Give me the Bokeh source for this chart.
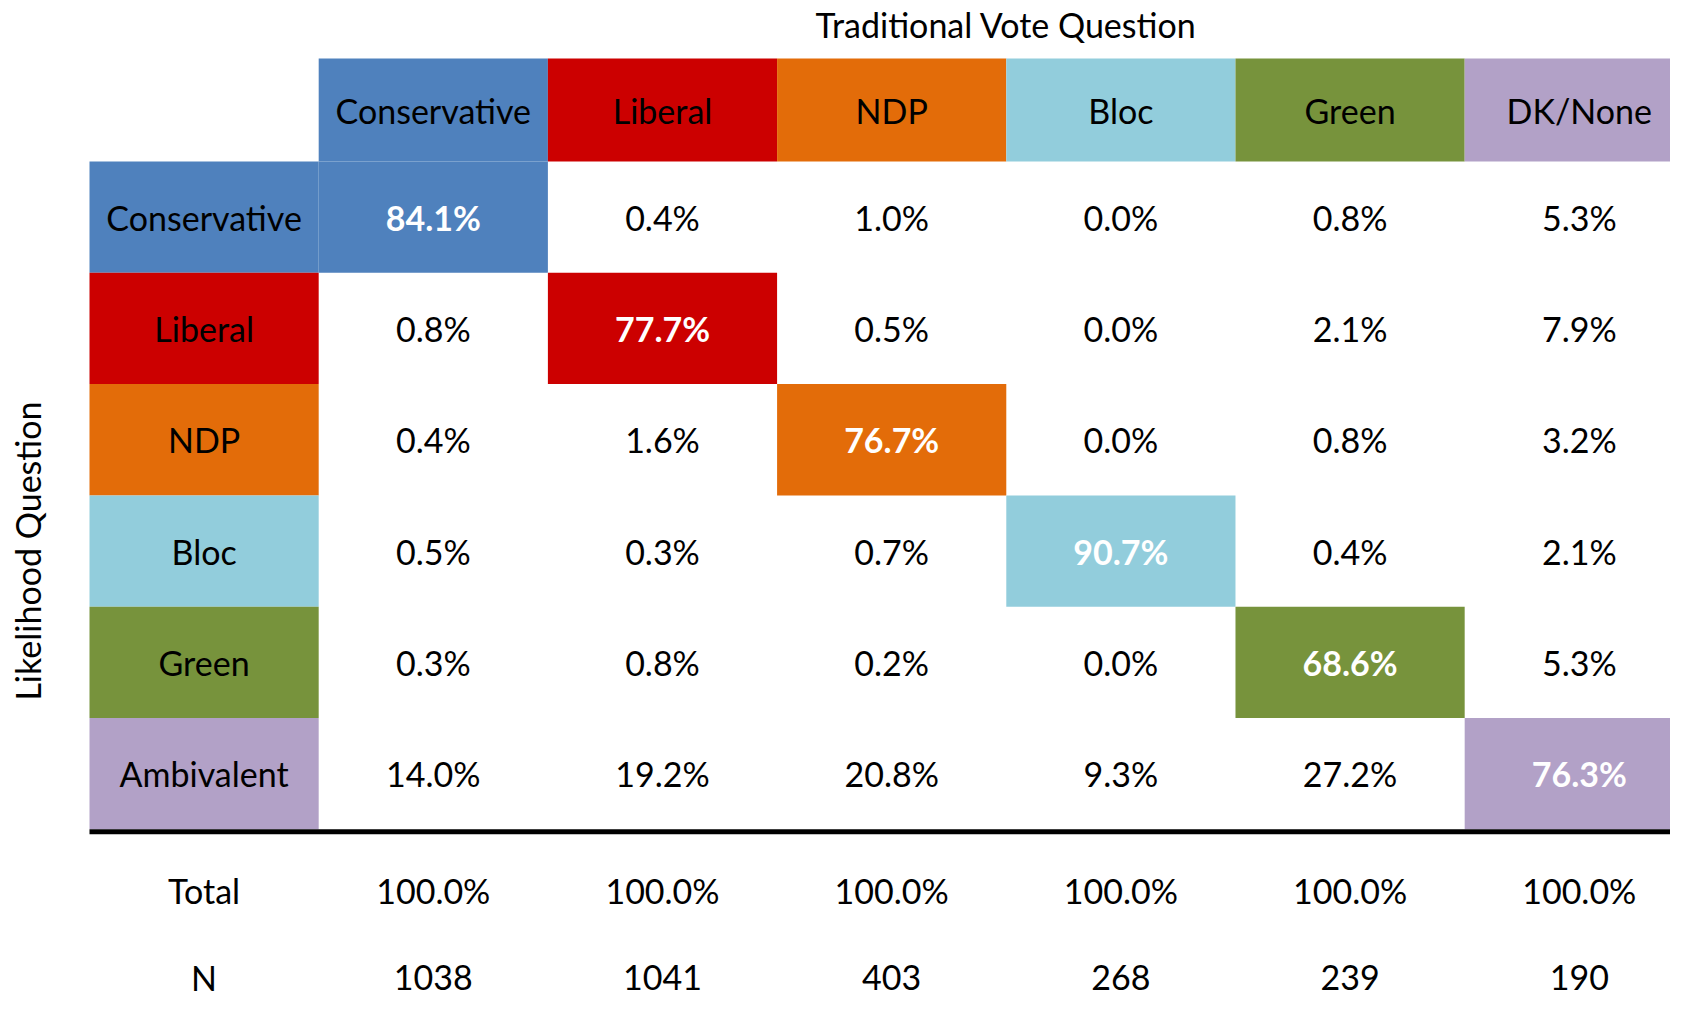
from bokeh.plotting import figure
from bokeh.models import ColumnDataSource, Range1d
from bokeh.core.properties import value
from bokeh.embed import file_html
from bokeh.resources import INLINE

# ---------------- data ----------------
col_parties = ["Conservative", "Liberal", "NDP", "Bloc", "Green", "DK/None"]
row_parties = ["Conservative", "Liberal", "NDP", "Bloc", "Green", "Ambivalent"]
party_colors = ["#4F81BD", "#CC0000", "#E36C09", "#92CDDC", "#77933C", "#B2A1C7"]

row_conservative = [84.1, 0.4, 1.0, 0.0, 0.8, 5.3]
row_liberal = [0.8, 77.7, 0.5, 0.0, 2.1, 7.9]
row_ndp = [0.4, 1.6, 76.7, 0.0, 0.8, 3.2]
row_bloc = [0.5, 0.3, 0.7, 90.7, 0.4, 2.1]
row_green = [0.3, 0.8, 0.2, 0.0, 68.6, 5.3]
row_ambivalent = [14.0, 19.2, 20.8, 9.3, 27.2, 76.3]
matrix = [row_conservative, row_liberal, row_ndp, row_bloc, row_green, row_ambivalent]

totals = [100.0, 100.0, 100.0, 100.0, 100.0, 100.0]
n_counts = [1038, 1041, 403, 268, 239, 190]

title_text = "Traditional Vote Question"
ylabel_text = "Likelihood Question"
total_label = "Total"
n_label = "N"

# ---------------- layout ----------------
FONT = value("Lato")
FS = "34px"
HEADER_H = 0.925
nrows = len(row_parties)
ncols = len(col_parties)

p = figure(width=1670, height=1002,
           x_range=Range1d(-0.3883, 6.898), y_range=Range1d(7.556, -1.4465),
           toolbar_location=None, output_backend="svg", min_border=0)
p.axis.visible = False
p.grid.visible = False
p.outline_line_color = None
p.background_fill_color = "white"

# header cells
hdr = ColumnDataSource(dict(
    left=[i + 1 for i in range(ncols)], right=[i + 2 for i in range(ncols)],
    top=[-HEADER_H] * ncols, bottom=[0] * ncols, color=party_colors,
    x=[i + 1.5 for i in range(ncols)], y=[-HEADER_H / 2] * ncols, text=col_parties))
p.quad(left="left", right="right", top="top", bottom="bottom", fill_color="color",
       line_color=None, source=hdr)
p.text(x="x", y="y", text="text", source=hdr, text_font=FONT, text_font_size=FS,
       text_align="center", text_baseline="middle", text_color="black")

# row label cells
rl = ColumnDataSource(dict(
    left=[0] * nrows, right=[1] * nrows, top=list(range(nrows)),
    bottom=[r + 1 for r in range(nrows)], color=party_colors,
    x=[0.5] * nrows, y=[r + 0.5 for r in range(nrows)], text=row_parties))
p.quad(left="left", right="right", top="top", bottom="bottom", fill_color="color",
       line_color=None, source=rl)
p.text(x="x", y="y", text="text", source=rl, text_font=FONT, text_font_size=FS,
       text_align="center", text_baseline="middle", text_color="black")

# diagonal cells
dg = ColumnDataSource(dict(
    left=[r + 1 for r in range(nrows)], right=[r + 2 for r in range(nrows)],
    top=list(range(nrows)), bottom=[r + 1 for r in range(nrows)], color=party_colors))
p.quad(left="left", right="right", top="top", bottom="bottom", fill_color="color",
       line_color=None, source=dg)

# values
xs, ys, txt, tcol, tstyle = [], [], [], [], []
for r, row in enumerate(matrix):
    for c, v in enumerate(row):
        xs.append(c + 1.5)
        ys.append(r + 0.5)
        txt.append(f"{v:.1f}%")
        diag = (r == c)
        tcol.append("white" if diag else "black")
        tstyle.append("bold" if diag else "normal")
vals = ColumnDataSource(dict(x=xs, y=ys, text=txt, color=tcol, style=tstyle))
p.text(x="x", y="y", text="text", source=vals, text_font=FONT, text_font_size=FS,
       text_align="center", text_baseline="middle", text_color="color",
       text_font_style="style")

# thick separator line
p.segment(x0=[0], x1=[ncols + 1.2], y0=[nrows + 0.022], y1=[nrows + 0.022],
          line_color="black", line_width=5)

# totals and N rows
TOTAL_Y = nrows + 0.55
N_Y = nrows + 1.33
bottom_rows = ColumnDataSource(dict(
    x=[0.5] + [c + 1.5 for c in range(ncols)] + [0.5] + [c + 1.5 for c in range(ncols)],
    y=[TOTAL_Y] * (ncols + 1) + [N_Y] * (ncols + 1),
    text=[total_label] + [f"{t:.1f}%" for t in totals] + [n_label] + [str(n) for n in n_counts]))
p.text(x="x", y="y", text="text", source=bottom_rows, text_font=FONT, text_font_size=FS,
       text_align="center", text_baseline="middle", text_color="black")

# titles
p.text(x=[(1 + ncols + 1) / 2], y=[-1.231], text=[title_text], text_font=FONT,
       text_font_size=FS, text_align="center", text_baseline="middle", text_color="black")
p.text(x=[-0.2705], y=[(nrows + 1) / 2], text=[ylabel_text], text_font=FONT,
       text_font_size=FS, text_align="center", text_baseline="middle", text_color="black",
       angle=1.5707963)

open("out.html", "w").write(file_html(p, INLINE))
